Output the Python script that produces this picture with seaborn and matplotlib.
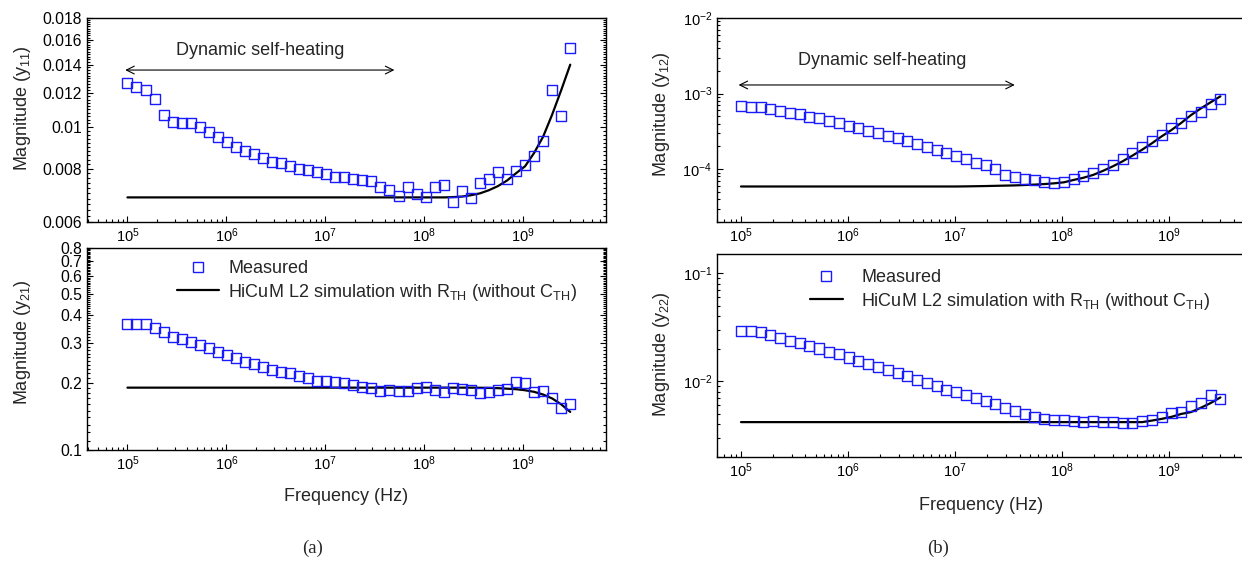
import numpy as np
import matplotlib
matplotlib.use("Agg")
import matplotlib.pyplot as plt
import seaborn as sns
from matplotlib.lines import Line2D
from matplotlib.ticker import FixedLocator, FixedFormatter, LogLocator, NullFormatter

# ---------------- data ----------------
freq = [1.000e5, 1.234e5, 1.523e5, 1.880e5, 2.320e5, 2.863e5, 3.533e5, 4.360e5, 5.383e5, 6.643e5,
        8.198e5, 1.012e6, 1.249e6, 1.541e6, 1.902e6, 2.347e6, 2.897e6, 3.575e6, 4.412e6, 5.445e6,
        6.720e6, 8.293e6, 1.023e7, 1.263e7, 1.559e7, 1.924e7, 2.374e7, 2.930e7, 3.616e7, 4.463e7,
        5.508e7, 6.798e7, 8.390e7, 1.035e8, 1.278e8, 1.577e8, 1.946e8, 2.402e8, 2.965e8, 3.659e8,
        4.516e8, 5.573e8, 6.878e8, 8.489e8, 1.048e9, 1.293e9, 1.596e9, 1.970e9, 2.431e9, 3.000e9]

y11_meas = [0.0127, 0.01239, 0.01222, 0.01162, 0.01069, 0.0103, 0.01021, 0.01021, 0.00999, 0.00976,
            0.0095, 0.00925, 0.0090, 0.00881, 0.00865, 0.00846, 0.0083, 0.00823, 0.00811, 0.00799,
            0.00794, 0.00784, 0.00777, 0.00763, 0.00763, 0.00755, 0.00752, 0.0075, 0.00726, 0.00713,
            0.0069, 0.00726, 0.00698, 0.00685, 0.00723, 0.00731, 0.00668, 0.0071, 0.00684, 0.00741,
            0.00757, 0.00784, 0.00757, 0.00791, 0.00816, 0.00856, 0.0093, 0.01222, 0.01062, 0.01534]
y11_sim = [0.00685] * 36 + [0.00686, 0.00688, 0.00693, 0.00700, 0.00712, 0.00728, 0.0075, 0.0078,
                            0.00810, 0.0087, 0.0095, 0.0107, 0.0122, 0.0140]

y21_meas = [0.366, 0.365, 0.365, 0.35, 0.338, 0.321, 0.313, 0.305, 0.295, 0.285,
            0.275, 0.266, 0.259, 0.248, 0.242, 0.236, 0.229, 0.223, 0.220, 0.215,
            0.209, 0.204, 0.204, 0.202, 0.199, 0.195, 0.192, 0.189, 0.184, 0.1855,
            0.184, 0.184, 0.189, 0.192, 0.1855, 0.182, 0.189, 0.187, 0.1855, 0.179,
            0.182, 0.1855, 0.187, 0.202, 0.199, 0.182, 0.184, 0.171, 0.154, 0.16]
y21_sim = [0.19] * 39 + [0.1898, 0.1895, 0.189, 0.188, 0.187, 0.185, 0.182, 0.177, 0.170, 0.160, 0.148]

y12_meas = [6.85e-4, 6.71e-4, 6.58e-4, 6.19e-4, 5.94e-4, 5.59e-4, 5.32e-4, 4.95e-4, 4.71e-4, 4.38e-4,
            4.05e-4, 3.73e-4, 3.47e-4, 3.20e-4, 2.98e-4, 2.75e-4, 2.56e-4, 2.36e-4, 2.13e-4, 1.97e-4,
            1.80e-4, 1.65e-4, 1.50e-4, 1.35e-4, 1.22e-4, 1.14e-4, 9.98e-5, 8.38e-5, 7.96e-5, 7.35e-5,
            7.20e-5, 6.70e-5, 6.64e-5, 6.70e-5, 7.35e-5, 8.13e-5, 9.0e-5, 9.98e-5, 1.14e-4, 1.35e-4,
            1.65e-4, 1.99e-4, 2.38e-4, 2.83e-4, 3.47e-4, 4.05e-4, 5.06e-4, 5.77e-4, 7.28e-4, 8.40e-4]
y12_sim = [5.9e-5] * 23 + [5.92e-5, 5.95e-5, 5.98e-5, 6.02e-5, 6.06e-5, 6.1e-5, 6.17e-5, 6.25e-5,
                           6.35e-5, 6.5e-5, 6.7e-5, 7.2e-5, 7.7e-5, 8.4e-5, 9.5e-5, 1.09e-4, 1.27e-4,
                           1.51e-4, 1.81e-4, 2.2e-4, 2.72e-4, 3.3e-4, 4.1e-4, 5.2e-4, 6.37e-4,
                           7.67e-4, 9.2e-4]

y22_meas = [0.0293, 0.0291, 0.0283, 0.0267, 0.0249, 0.0235, 0.0224, 0.0213, 0.0201, 0.0187,
            0.0178, 0.0166, 0.01535, 0.0144, 0.0136, 0.01265, 0.01194, 0.0111, 0.0102, 0.00964,
            0.0090, 0.00837, 0.00796, 0.00752, 0.0070, 0.00656, 0.00611, 0.0057, 0.0053, 0.00501,
            0.00467, 0.0045, 0.00441, 0.00441, 0.00434, 0.00419, 0.00428, 0.00422, 0.00419, 0.00416,
            0.0041, 0.00428, 0.00441, 0.00467, 0.00508, 0.00519, 0.00586, 0.0063, 0.00752, 0.0069]
y22_sim = [0.0042] * 41 + [0.0042, 0.00434, 0.0045, 0.0047, 0.0050, 0.0052, 0.0057, 0.0063, 0.0071]

y11_ticks = [0.006, 0.008, 0.01, 0.012, 0.014, 0.016, 0.018]
y11_ticklabels = ["0.006", "0.008", "0.01", "0.012", "0.014", "0.016", "0.018"]
y21_ticks = [0.1, 0.2, 0.3, 0.4, 0.5, 0.6, 0.7, 0.8]
y21_ticklabels = ["0.1", "0.2", "0.3", "0.4", "0.5", "0.6", "0.7", "0.8"]

legend_meas = "Measured"
legend_sim = r"HiCuM L2 simulation with R$_{\mathregular{TH}}$ (without C$_{\mathregular{TH}}$)"
annot_text = "Dynamic self-heating"
xlabel = "Frequency (Hz)"

# ---------------- style ----------------
sns.set_theme(style="ticks")
plt.rcParams["font.family"] = ["Liberation Sans", "DejaVu Sans"]
plt.rcParams["mathtext.fontset"] = "custom"
plt.rcParams["mathtext.rm"] = "Liberation Sans"
plt.rcParams["mathtext.it"] = "Liberation Sans:italic"
plt.rcParams["mathtext.bf"] = "Liberation Sans:bold"
plt.rcParams["axes.edgecolor"] = "black"
plt.rcParams["axes.linewidth"] = 1.0

MEAS_COLOR = "#1a1aff"
LABEL_FS = 13
W, H = 1242, 574
fig = plt.figure(figsize=(W / 100, H / 100), dpi=100)


def add_ax(l, t, r, b):
    return fig.add_axes([l / W, 1 - b / H, (r - l) / W, (b - t) / H])


ax_a1 = add_ax(87, 18, 606, 222)
ax_a2 = add_ax(87, 248, 606, 450)
ax_b1 = add_ax(717, 18, 1246, 222)
ax_b2 = add_ax(717, 254, 1246, 457)

panels = [
    (ax_a1, y11_meas, y11_sim, r"Magnitude (y$_{\mathregular{11}}$)", (3.9e4, 6.9e9), (0.006, 0.018), True),
    (ax_a2, y21_meas, y21_sim, r"Magnitude (y$_{\mathregular{21}}$)", (3.9e4, 6.9e9), (0.1, 0.8), True),
    (ax_b1, y12_meas, y12_sim, r"Magnitude (y$_{\mathregular{12}}$)", (5.97e4, 5.2e9), (2e-5, 1e-2), False),
    (ax_b2, y22_meas, y22_sim, r"Magnitude (y$_{\mathregular{22}}$)", (5.97e4, 5.2e9), (0.002, 0.15), False),
]

for ax, meas, sim, ylab, xl, yl, rticks in panels:
    ax.set_xscale("log")
    ax.set_yscale("log")
    sns.lineplot(x=freq, y=sim, ax=ax, color="black", linewidth=1.6, legend=False)
    sns.scatterplot(x=freq, y=meas, ax=ax, marker="s", s=52, facecolor="none",
                    edgecolor=MEAS_COLOR, linewidth=1.0, legend=False, zorder=3)
    ax.set_xlim(*xl)
    ax.set_ylim(*yl)
    ax.set_ylabel(ylab, fontsize=LABEL_FS)
    ax.xaxis.set_major_locator(LogLocator(base=10, numticks=20))
    ax.xaxis.set_minor_locator(LogLocator(base=10, subs=np.arange(2, 10), numticks=20))
    ax.xaxis.set_minor_formatter(NullFormatter())
    ax.tick_params(which="both", direction="in", right=rticks, top=False, labelsize=10.5,
                   colors="black", width=0.8)
    ax.tick_params(which="major", length=4)
    ax.tick_params(which="minor", length=2.5)
    for sp in ax.spines.values():
        sp.set_visible(True)
        sp.set_color("black")

# custom y ticks for panel (a)
ax_a1.yaxis.set_major_locator(FixedLocator(y11_ticks))
ax_a1.yaxis.set_major_formatter(FixedFormatter(y11_ticklabels))
ax_a1.yaxis.set_minor_locator(FixedLocator(np.arange(0.0060, 0.0181, 0.0002)))
ax_a1.yaxis.set_minor_formatter(NullFormatter())
ax_a2.yaxis.set_major_locator(FixedLocator(y21_ticks))
ax_a2.yaxis.set_major_formatter(FixedFormatter(y21_ticklabels))
ax_a2.yaxis.set_minor_locator(FixedLocator(np.arange(0.10, 0.801, 0.01)))
ax_a2.yaxis.set_minor_formatter(NullFormatter())
for ax in (ax_a1, ax_a2):
    ax.tick_params(axis="y", labelsize=11.3)
for ax in (ax_b1, ax_b2):
    ax.yaxis.set_major_locator(LogLocator(base=10, numticks=20))
    ax.yaxis.set_minor_locator(LogLocator(base=10, subs=np.arange(2, 10), numticks=20))
    ax.yaxis.set_minor_formatter(NullFormatter())

# label positions
ax_a1.yaxis.set_label_coords(-0.104, 0.56)
ax_a2.yaxis.set_label_coords(-0.104, 0.535)
ax_b1.yaxis.set_label_coords(-0.085, 0.53)
ax_b2.yaxis.set_label_coords(-0.085, 0.507)
ax_a2.set_xlabel(xlabel, fontsize=LABEL_FS)
ax_b2.set_xlabel(xlabel, fontsize=LABEL_FS)
ax_a2.xaxis.set_label_coords(0.5, -0.188)
ax_b2.xaxis.set_label_coords(0.5, -0.197)

# annotations
arrow_kw = dict(arrowstyle="<->", color="black", lw=0.8, shrinkA=0, shrinkB=0,
                mutation_scale=14)
ax_a1.annotate("", xy=(5.0e7, 0.0136), xytext=(0.95e5, 0.0136), arrowprops=arrow_kw)
ax_a1.text(2.2e6, 0.01515, annot_text, ha="center", va="center", fontsize=LABEL_FS)
ax_b1.annotate("", xy=(3.6e7, 1.30e-3), xytext=(0.95e5, 1.30e-3), arrowprops=arrow_kw)
ax_b1.text(2.1e6, 2.78e-3, annot_text, ha="center", va="center", fontsize=LABEL_FS)

# legends
h_meas = Line2D([], [], marker="s", linestyle="none", markersize=7.2, markerfacecolor="none",
                markeredgecolor=MEAS_COLOR, markeredgewidth=1.0)
h_sim = Line2D([], [], color="black", linewidth=1.6)
ax_a2.legend([h_meas, h_sim], [legend_meas, legend_sim], loc="upper left",
             bbox_to_anchor=((177 - 87) / 519, 1 - (260 - 248) / 202), frameon=False,
             fontsize=LABEL_FS, handlelength=2.3, handletextpad=0.55, labelspacing=0.25,
             borderpad=0, borderaxespad=0)
ax_b2.legend([h_meas, h_sim], [legend_meas, legend_sim], loc="upper left",
             bbox_to_anchor=((810 - 717) / 529, 1 - (269 - 254) / 203), frameon=False,
             fontsize=LABEL_FS, handlelength=1.8, handletextpad=1.05, labelspacing=0.25,
             borderpad=0, borderaxespad=0)

fig.text(313 / W, 1 - 548 / H, "(a)", ha="center", va="center", fontsize=13.5,
         family=["Liberation Serif", "DejaVu Serif"])
fig.text(938 / W, 1 - 548 / H, "(b)", ha="center", va="center", fontsize=13.5,
         family=["Liberation Serif", "DejaVu Serif"])

fig.savefig("out.png", dpi=100)
